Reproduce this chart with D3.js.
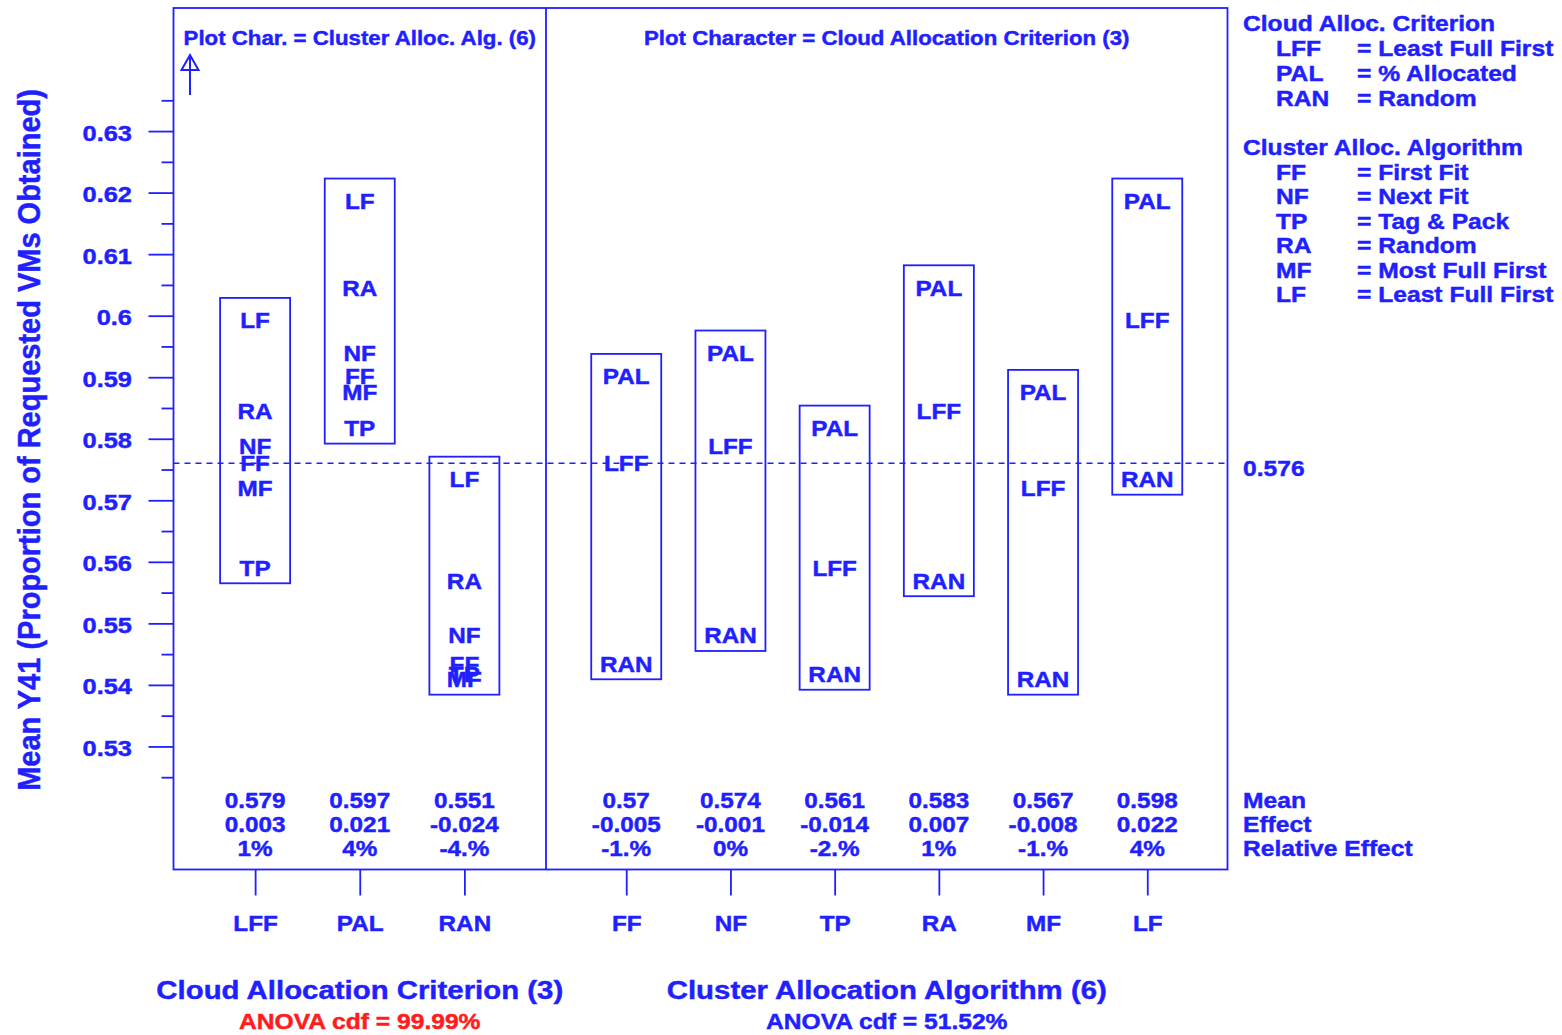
<!DOCTYPE html>
<html>
<head>
<meta charset="utf-8">
<script src="https://cdn.jsdelivr.net/npm/d3@7"></script>
<style>
  html, body { margin: 0; padding: 0; background: #ffffff; }
  svg { display: block; }
  text { font-family: "Liberation Sans", Arial, Helvetica, sans-serif; font-weight: bold;
         stroke-width: 0.45px; paint-order: stroke; }
</style>
</head>
<body>
<div id="chart"></div>
<script>
// Factor levels
const cloudCats = ["LFF", "PAL", "RAN"];
const clusterCats = ["FF", "NF", "TP", "RA", "MF", "LF"];

// Cell means of Y41, one array per cloud criterion, ordered as clusterCats
const meansLFF = [0.5767, 0.5794, 0.5596, 0.5851, 0.5726, 0.5998];
const meansPAL = [0.5907, 0.5945, 0.5823, 0.6051, 0.5881, 0.6192];
const meansRAN = [0.5440, 0.5486, 0.5423, 0.5575, 0.5415, 0.5740];

// Summary rows under each level (cloud levels first, then cluster levels)
const groupMeans   = [0.579, 0.597, 0.551, 0.57, 0.574, 0.561, 0.583, 0.567, 0.598];
const groupEffects = [0.003, 0.021, -0.024, -0.005, -0.001, -0.014, 0.007, -0.008, 0.022];
const relEffects   = ["1%", "4%", "-4.%", "-1.%", "0%", "-2.%", "1%", "-1.%", "4%"];
const grandMean = 0.576;

// Axis ticks
const yMajorTicks = [0.53, 0.54, 0.55, 0.56, 0.57, 0.58, 0.59, 0.60, 0.61, 0.62, 0.63];
const yMajorLabels = ["0.53", "0.54", "0.55", "0.56", "0.57", "0.58", "0.59", "0.6", "0.61", "0.62", "0.63"];
const yMinorTicks = [0.525, 0.535, 0.545, 0.555, 0.565, 0.575, 0.585, 0.595, 0.605, 0.615, 0.625, 0.635];

// Legend text
const cloudLegend = [["LFF", "= Least Full First"], ["PAL", "= % Allocated"], ["RAN", "= Random"]];
const clusterLegend = [["FF", "= First Fit"], ["NF", "= Next Fit"], ["TP", "= Tag & Pack"],
                       ["RA", "= Random"], ["MF", "= Most Full First"], ["LF", "= Least Full First"]];

const cellTable = { LFF: meansLFF, PAL: meansPAL, RAN: meansRAN };

const W = 1562, H = 1035;
const BLUE = "#1f1fff", RED = "#ff1c1c";
const SX = 1.13;               // horizontal stretch of the lettering
const frame = { left: 173.5, right: 1227.5, top: 8, bottom: 869.5, split: 546 };

const svg = d3.select("#chart").append("svg").attr("width", W).attr("height", H);
svg.append("rect").attr("width", W).attr("height", H).attr("fill", "#ffffff");

const y = d3.scaleLinear().domain([0.51, 0.65]).range([frame.bottom, frame.top]);
const xCloud = d3.scalePoint().domain(cloudCats).range([frame.left, frame.split]).padding(0.78);
const xCluster = d3.scalePoint().domain(clusterCats).range([frame.split, frame.right]).padding(0.77);

function label(g, x, yy, str, size, opts = {}) {
  const c = opts.color || BLUE;
  return g.append("text")
    .attr("transform", `translate(${x},${yy}) scale(${opts.sx || SX},1)`)
    .attr("text-anchor", opts.anchor || "start")
    .attr("dominant-baseline", "central")
    .attr("fill", c).attr("stroke", c)
    .style("font-size", size + "px")
    .text(str);
}

// Y axis: minor and major ticks
const yMinor = svg.append("g").attr("transform", `translate(${frame.left},0)`)
  .call(d3.axisLeft(y).tickValues(yMinorTicks).tickSize(12).tickFormat(""));
const yMajor = svg.append("g").attr("transform", `translate(${frame.left},0)`)
  .call(d3.axisLeft(y).tickValues(yMajorTicks).tickSize(25)
        .tickFormat((d, i) => yMajorLabels[i]));
[yMinor, yMajor].forEach(g => {
  g.select(".domain").remove();
  g.selectAll(".tick line").attr("stroke", BLUE).attr("stroke-width", 1.8);
});
yMajor.selectAll(".tick text")
  .attr("x", null).attr("dy", null)
  .attr("transform", `translate(-41.5,1) scale(${SX},1)`)
  .attr("dominant-baseline", "central")
  .attr("text-anchor", "end")
  .attr("fill", BLUE).attr("stroke", BLUE)
  .style("font-size", "22.5px")
  .style("font-family", null);

// X axes (one per panel)
function bottomAxis(scale) {
  const g = svg.append("g").attr("transform", `translate(0,${frame.bottom})`)
    .call(d3.axisBottom(scale).tickSize(26).tickSizeOuter(0));
  g.select(".domain").remove();
  g.selectAll(".tick line").attr("stroke", BLUE).attr("stroke-width", 1.8);
  g.selectAll(".tick text")
    .attr("y", null).attr("dy", null)
    .attr("transform", `translate(0,${924 - frame.bottom}) scale(${SX},1)`)
    .attr("dominant-baseline", "central")
    .attr("fill", BLUE).attr("stroke", BLUE)
    .style("font-size", "21.5px")
    .style("font-family", null);
}
bottomAxis(xCloud);
bottomAxis(xCluster);

// Frame and panel divider
svg.append("rect")
  .attr("x", frame.left).attr("y", frame.top)
  .attr("width", frame.right - frame.left).attr("height", frame.bottom - frame.top)
  .attr("fill", "none").attr("stroke", BLUE).attr("stroke-width", 1.8);
svg.append("line")
  .attr("x1", frame.split).attr("x2", frame.split)
  .attr("y1", frame.top).attr("y2", frame.bottom)
  .attr("stroke", BLUE).attr("stroke-width", 1.8);

// Grand mean reference line
svg.append("line")
  .attr("x1", frame.left).attr("x2", frame.right)
  .attr("y1", y(grandMean)).attr("y2", y(grandMean))
  .attr("stroke", BLUE).attr("stroke-width", 1.5)
  .attr("stroke-dasharray", "6,5");
label(svg, 1243, y(grandMean) + 5, String(grandMean), 21.8);

// Panel headers and the arrow
label(svg, (frame.left + frame.split) / 2, 38, "Plot Char. = Cluster Alloc. Alg. (6)", 19.7, { anchor: "middle" });
label(svg, (frame.split + frame.right) / 2, 38, "Plot Character = Cloud Allocation Criterion (3)", 19.7, { anchor: "middle" });
const arrow = svg.append("g").attr("stroke", BLUE).attr("stroke-width", 2).attr("fill", "none");
arrow.append("line").attr("x1", 190).attr("x2", 190).attr("y1", 55).attr("y2", 95);
arrow.append("path").attr("d", "M190,55 L181.5,70 L198.5,70 Z");

// Box-and-character plots
const BOX_HALF = 35, BOX_PAD = 19, CHAR_OFFSET = 4;
function groupBox(xc, entries) {
  const vals = entries.map(e => e.v);
  const top = y(d3.max(vals)) - BOX_PAD;
  const bot = y(d3.min(vals)) + BOX_PAD;
  svg.append("rect")
    .attr("x", xc - BOX_HALF).attr("y", top)
    .attr("width", 2 * BOX_HALF).attr("height", bot - top)
    .attr("fill", "none").attr("stroke", BLUE).attr("stroke-width", 1.8);
  entries.forEach(e => label(svg, xc, y(e.v) + CHAR_OFFSET, e.k, 21.5, { anchor: "middle" }));
}
// Left panel: one box per cloud criterion, cluster algorithm as plot character
cloudCats.forEach(c => {
  groupBox(xCloud(c), clusterCats.map((k, j) => ({ k, v: cellTable[c][j] })));
});
// Right panel: one box per cluster algorithm, cloud criterion as plot character
clusterCats.forEach((k, j) => {
  groupBox(xCluster(k), cloudCats.map(c => ({ k: c, v: cellTable[c][j] })));
});

// Summary rows
const allX = cloudCats.map(c => xCloud(c)).concat(clusterCats.map(k => xCluster(k)));
allX.forEach((xc, i) => {
  label(svg, xc, 801, String(groupMeans[i]), 21.5, { anchor: "middle" });
  label(svg, xc, 825, String(groupEffects[i]), 21.5, { anchor: "middle" });
  label(svg, xc, 849, relEffects[i], 21.5, { anchor: "middle" });
});
label(svg, 1243, 801, "Mean", 21.8);
label(svg, 1243, 825, "Effect", 21.8);
label(svg, 1243, 849, "Relative Effect", 21.8);

// Legend
label(svg, 1243, 24, "Cloud Alloc. Criterion", 21.8);
cloudLegend.forEach((d, i) => {
  label(svg, 1276, 49 + i * 24.7, d[0], 21.8);
  label(svg, 1357, 49 + i * 24.7, d[1], 21.8);
});
label(svg, 1243, 148, "Cluster Alloc. Algorithm", 21.8);
clusterLegend.forEach((d, i) => {
  label(svg, 1276, 172.5 + i * 24.5, d[0], 21.8);
  label(svg, 1357, 172.5 + i * 24.5, d[1], 21.8);
});

// Axis titles
svg.append("text")
  .attr("transform", `translate(39.5,440) scale(1.08,1) rotate(-90)`)
  .attr("text-anchor", "middle")
  .attr("fill", BLUE).attr("stroke", BLUE)
  .style("font-size", "29px")
  .text("Mean Y41 (Proportion of Requested VMs Obtained)");
label(svg, (frame.left + frame.split) / 2, 990, "Cloud Allocation Criterion (3)", 26, { anchor: "middle" });
label(svg, (frame.split + frame.right) / 2, 990, "Cluster Allocation Algorithm (6)", 26, { anchor: "middle" });
label(svg, (frame.left + frame.split) / 2, 1022, "ANOVA cdf = 99.99%", 21.8, { anchor: "middle", color: RED });
label(svg, (frame.split + frame.right) / 2, 1022, "ANOVA cdf = 51.52%", 21.8, { anchor: "middle" });
</script>
</body>
</html>
